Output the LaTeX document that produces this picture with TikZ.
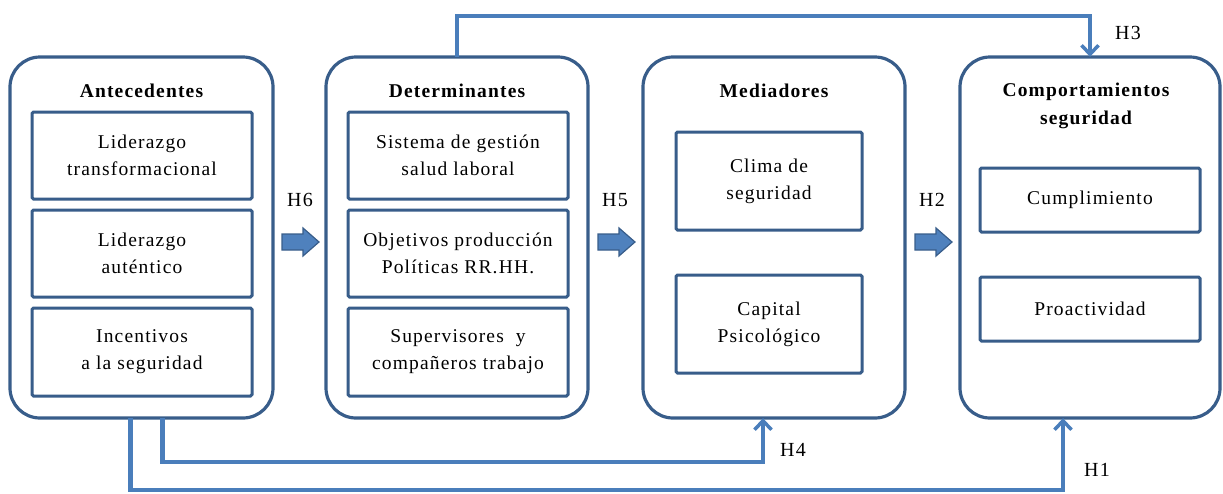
\documentclass[tikz,border=0pt]{standalone}
\usepackage{fontspec}
\setmainfont{Liberation Serif}[LetterSpace=6]
\usetikzlibrary{arrows.meta,calc}
\definecolor{dkblue}{HTML}{385D8A}
\definecolor{ltblue}{HTML}{4A7EBB}
\definecolor{fillblue}{HTML}{4F81BD}
\tikzset{
  bigbox/.style={draw=dkblue,line width=3.2pt,rounded corners=30pt,fill=white},
  inbox/.style={draw=dkblue,line width=3pt,rounded corners=1.5pt,align=center,font=\fontsize{19.5}{27}\selectfont,inner sep=0pt},
  ttl/.style={font=\bfseries\fontsize{19.5}{28}\selectfont,align=center,inner sep=0pt},
  hlab/.style={font=\fontsize{20}{20}\selectfont,inner sep=0pt},
  conn/.style={draw=ltblue,line width=4.5pt,line cap=butt},
  tip/.style={-{Straight Barb[length=9pt,width=17pt,line width=3.5pt]}},
  barrow/.pic={\filldraw[fill=fillblue,draw=dkblue,line width=1.2pt] (0,-8) -- (21,-8) -- (21,-14) -- (37,0) -- (21,14) -- (21,8) -- (0,8) -- cycle;}
}
\begin{document}
\begin{tikzpicture}[x=1pt,y=-1pt]
\useasboundingbox (0,0) rectangle (1223,493);
% big boxes
\path[bigbox] (10,57) rectangle (273,418);
\path[bigbox] (326,57) rectangle (588,418);
\path[bigbox] (643,57) rectangle (905,418);
\path[bigbox] (960,57) rectangle (1220,418);
\node[inner sep=0pt] (ant) at (141.5,237.5) [minimum width=263pt,minimum height=361pt] {};
\node[inner sep=0pt] (det) at (457,237.5) [minimum width=262pt,minimum height=361pt] {};
\node[inner sep=0pt] (med) at (774,237.5) [minimum width=262pt,minimum height=361pt] {};
\node[inner sep=0pt] (comp) at (1090,237.5) [minimum width=260pt,minimum height=361pt] {};
% titles
\node[ttl] (antT) at (141.5,91) {Antecedentes};
\node[ttl] (detT) at (457,91) {Determinantes};
\node[ttl] (medT) at (774,91) {Mediadores};
\node[ttl,text depth=0pt] (compT) at (1086,104) {Comportamientos\\seguridad};
% inner boxes
\node[inbox,minimum width=220pt,minimum height=87pt] (a1) at (142,155.5) {Liderazgo\\transformacional};
\node[inbox,minimum width=220pt,minimum height=87pt] (a2) at (142,253.5) {Liderazgo\\auténtico};
\node[inbox,minimum width=220pt,minimum height=88pt] (a3) at (142,352) {Incentivos\\a la seguridad};
\node[inbox,minimum width=220pt,minimum height=87pt] (d1) at (458,155.5) {Sistema de gestión\\salud laboral};
\node[inbox,minimum width=220pt,minimum height=87pt] (d2) at (458,253.5) {Objetivos producción\\Políticas RR.HH.};
\node[inbox,minimum width=220pt,minimum height=88pt] (d3) at (458,352) {Supervisores\ \ y\\compañeros trabajo};
\node[inbox,minimum width=186pt,minimum height=98pt] (m1) at (769,181) {Clima de\\seguridad};
\node[inbox,minimum width=186pt,minimum height=98pt] (m2) at (769,324) {Capital\\Psicológico};
\node[inbox,minimum width=220pt,minimum height=64pt] (c1) at (1090,200) {Cumplimiento};
\node[inbox,minimum width=220pt,minimum height=64pt] (c2) at (1090,309) {Proactividad};
% block arrows
\pic at (282,242) {barrow};
\pic at (598,242) {barrow};
\pic at (915,242) {barrow};
\node[hlab] (h6) at (300,200) {H6};
\node[hlab] (h5) at (615,200) {H5};
\node[hlab] (h2) at (932,200) {H2};
% connectors
\coordinate (t1) at ($(det.north)+(0,-41)$);
\draw[conn,tip] (det.north) -- (t1) -| (comp.north);
\node[hlab] (h3) at (1128,33) {H3};
\coordinate (s4) at ($(ant.south)+(21,0)$);
\coordinate (e4) at ($(med.south)+(-11,0)$);
\draw[conn,tip] (s4) -- ++(0,44) -| (e4);
\node[hlab] (h4) at (793,450) {H4};
\coordinate (s1) at ($(ant.south)+(-11,0)$);
\coordinate (e1) at ($(comp.south)+(-27,0)$);
\draw[conn,tip] (s1) -- ++(0,72) -| (e1);
\node[hlab] (h1) at (1097,470) {H1};
\end{tikzpicture}
\end{document}
